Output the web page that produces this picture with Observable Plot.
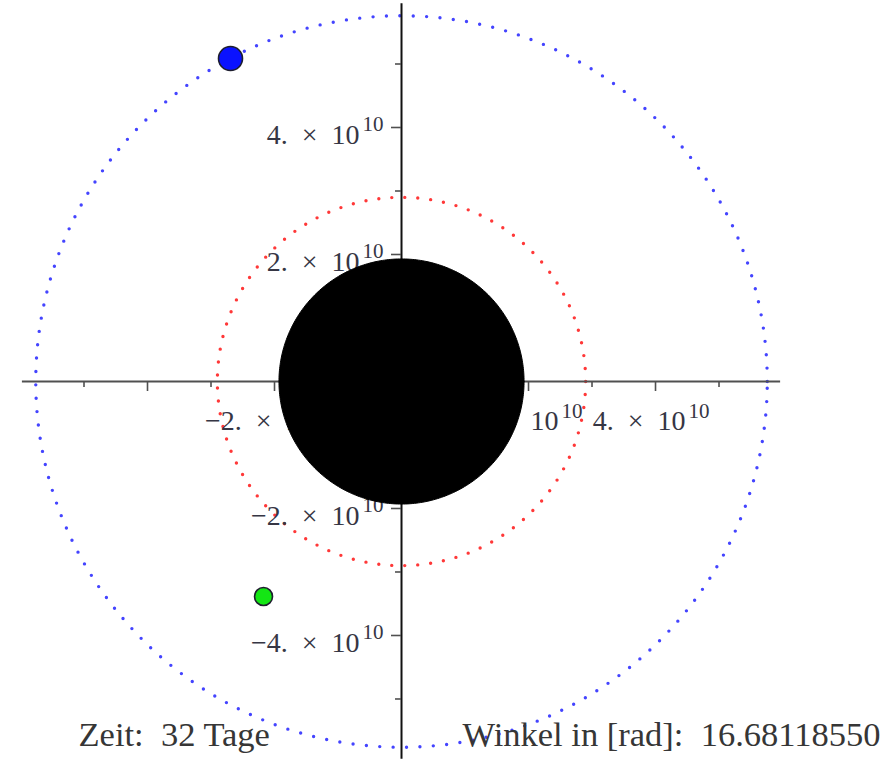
<!DOCTYPE html>
<html><head><meta charset="utf-8">
<script src="https://cdn.jsdelivr.net/npm/d3@7"></script>
<script src="https://cdn.jsdelivr.net/npm/@observablehq/plot@0.6"></script>
<style>
html,body{margin:0;padding:0;background:#fff;}
#chart{position:absolute;left:0;top:0;}
</style>
</head><body><div id="chart"></div>
<script>
// ---- data (metres) ----
const xDomain = [-6.315e10, 7.606e10];
const yDomain = [-5.953e10, 6.0e10];
const xAxisExtent = [-5.97e10, 5.97e10];
const yAxisExtent = [-5.95e10, 5.95e10];
const majorTicks = [-4e10, -2e10, 2e10, 4e10];
const minorTicks = [-5e10, -3e10, -1e10, 1e10, 3e10, 5e10];
const xLabelTicks = [-2e10, 2e10, 4e10];
const yLabelTicks = [4e10, 2e10, -2e10, -4e10];
const outerOrbitRadius = 5.76e10;
const innerOrbitRadius = 2.9e10;
const sunRadius = 1.93e10;
const bodyNames = ["außen", "innen"];
const bodyX = [-2.693e10, -2.173e10];
const bodyY = [5.087e10, -3.386e10];
const bodyFill = ["#0a12ff", "#14e614"];
const bodyR = [12, 9];
const zeitText = "Zeit:\u00A0 32 Tage";
const winkelText = "Winkel in [rad]:\u00A0 16.68118550";

// ---- helpers ----
const W = 884, H = 759;
const pxX = (xDomain[1] - xDomain[0]) / W;
const pxY = (yDomain[1] - yDomain[0]) / H;
const angles = d3.range(0, 360.5, 1).map(a => a * Math.PI / 180);
const circle = R => angles.map(a => ({x: R * Math.cos(a), y: R * Math.sin(a)}));
const bodies = bodyNames.map((n, i) => ({name: n, x: bodyX[i], y: bodyY[i], fill: bodyFill[i], r: bodyR[i]}));
const mainLabel = d => (d < 0 ? "\u2212" : "") + Math.abs(d / 1e10) + ".\u2002×\u200210";
const tickFont = "Liberation Serif, Times New Roman, serif";
const labelColor = "#363644";
const MS = 28, SS = 21;

const xTicks = [...majorTicks.map(v => ({v, len: 10})), ...minorTicks.map(v => ({v, len: 6}))];

const plot = Plot.plot({
  width: W, height: H, margin: 0,
  x: {domain: xDomain, axis: null},
  y: {domain: yDomain, axis: null},
  r: {type: "identity"},
  style: {background: "white", overflow: "visible"},
  marks: [
    // orbits
    Plot.line(circle(outerOrbitRadius), {x: "x", y: "y", stroke: "#4444ff", strokeWidth: 3.4, strokeDasharray: "0,13.4", strokeLinecap: "round"}),
    Plot.line(circle(innerOrbitRadius), {x: "x", y: "y", stroke: "#ff3838", strokeWidth: 3.4, strokeDasharray: "0,13", strokeLinecap: "round"}),
    // axes
    Plot.ruleY([0], {x1: xAxisExtent[0], x2: xAxisExtent[1], stroke: "#505050", strokeWidth: 2}),
    Plot.ruleX([0], {y1: yAxisExtent[0], y2: yAxisExtent[1], stroke: "#111", strokeWidth: 2}),
    // ticks
    Plot.ruleX(xTicks, {x: "v", y1: 0, y2: d => -d.len * pxY, stroke: "#505050", strokeWidth: 1.6}),
    Plot.ruleY(xTicks, {y: "v", x1: 0, x2: d => -d.len * pxX, stroke: "#505050", strokeWidth: 1.6}),
    // x tick labels
    Plot.text(xLabelTicks.filter(d => d > 0), {x: d => d, y: 0, text: mainLabel, textAnchor: "end", lineAnchor: "bottom", dx: 30, dy: 49, fontSize: MS, fontFamily: tickFont, fill: labelColor}),
    Plot.text(xLabelTicks.filter(d => d > 0), {x: d => d, y: 0, text: d => "10", textAnchor: "start", lineAnchor: "bottom", dx: 33, dy: 37, fontSize: SS, fontFamily: tickFont, fill: labelColor}),
    Plot.text(xLabelTicks.filter(d => d < 0), {x: d => d, y: 0, text: mainLabel, textAnchor: "end", lineAnchor: "bottom", dx: 39, dy: 49, fontSize: MS, fontFamily: tickFont, fill: labelColor}),
    Plot.text(xLabelTicks.filter(d => d < 0), {x: d => d, y: 0, text: d => "10", textAnchor: "start", lineAnchor: "bottom", dx: 42, dy: 37, fontSize: SS, fontFamily: tickFont, fill: labelColor}),
    // y tick labels
    Plot.text(yLabelTicks, {x: 0, y: d => d, text: mainLabel, textAnchor: "end", lineAnchor: "bottom", dx: -42, dy: 17, fontSize: MS, fontFamily: tickFont, fill: labelColor}),
    Plot.text(yLabelTicks, {x: 0, y: d => d, text: d => "10", textAnchor: "end", lineAnchor: "bottom", dx: -18, dy: 4, fontSize: SS, fontFamily: tickFont, fill: labelColor}),
    // central body
    Plot.line(circle(sunRadius), {x: "x", y: "y", fill: "black", stroke: "black", strokeWidth: 1}),
    // moving bodies
    Plot.dot(bodies, {x: "x", y: "y", fill: "fill", r: "r", stroke: "#1e1e2e", strokeWidth: 1.6}),
    // info texts
    Plot.text([zeitText], {frameAnchor: "bottom-left", text: d => d, textAnchor: "start", lineAnchor: "bottom", dx: 78, dy: -14, fontSize: 34.5, fontFamily: tickFont, fill: "#363636"}),
    Plot.text([winkelText], {frameAnchor: "bottom-right", text: d => d, textAnchor: "end", lineAnchor: "bottom", dx: -4, dy: -14, fontSize: 34.5, fontFamily: tickFont, fill: "#363636"})
  ]
});
document.getElementById("chart").appendChild(plot);
</script>
</body></html>
